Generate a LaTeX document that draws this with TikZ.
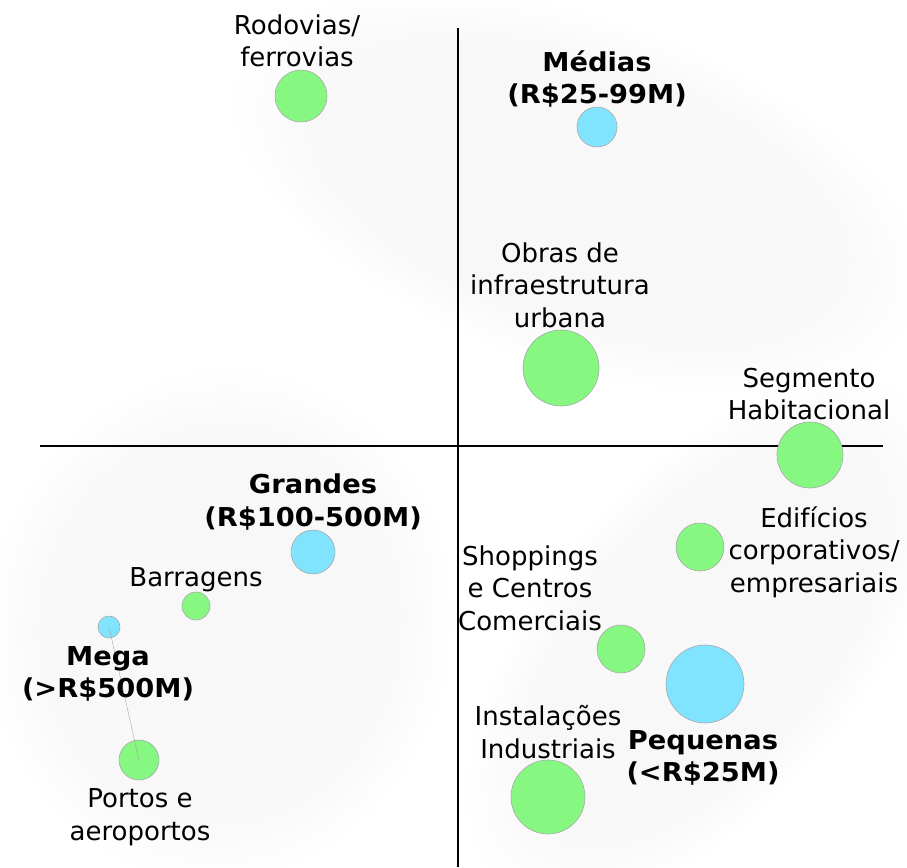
\documentclass[tikz,border=0pt]{standalone}
\usepackage{fontspec}
\setmainfont{DejaVu Sans}
\newfontfamily\widebold{DejaVu Sans Bold}[FakeStretch=1.05]
\definecolor{bgreen}{HTML}{86F882}
\definecolor{bblue}{HTML}{80E4FF}
\definecolor{bordergray}{HTML}{A8A8A8}
\newcommand\softblob[5]{%
  \foreach \k in {1.0,0.96,0.92,0.88,0.84,0.80,0.76}{%
    \fill[black, fill opacity=0.0058, rotate around={#5:(#1,#2)}]
      (#1,#2) ellipse [x radius=\k*#3, y radius=\k*#4];}}
\begin{document}
\begin{tikzpicture}[x=1pt,y=-1pt,
  lbl/.style={align=center, inner sep=0pt, font=\fontsize{26}{32.5}\selectfont},
  blbl/.style={align=center, inner sep=0pt, font=\fontsize{26}{32.5}\selectfont\widebold},
  bub/.style={circle, draw=bordergray, line width=0.6pt, inner sep=0pt, minimum size=#1},
  gbub/.style={bub=#1, fill=bgreen},
  bbub/.style={bub=#1, fill=bblue},
  axisline/.style={line width=1.6pt, black},
  link/.style={line width=0.4pt, black!35}]
\useasboundingbox (0,0) rectangle (907,867);
% background blobs
\softblob{578}{192}{358}{172}{-19}
\softblob{220}{625}{230}{255}{-10}
\softblob{705}{640}{315}{160}{50}
% axes
\coordinate (vtop) at (458,28);
\coordinate (vbot) at (458,867);
\coordinate (hleft) at (40,446);
\coordinate (hright) at (883,446);
\draw[axisline] (vtop) -- (vbot);
\draw[axisline] (hleft) -- (hright);
% bubbles
\node[gbub=52] (rod) at (301,96) {};
\node[bbub=40] (med) at (597,127) {};
\node[gbub=76] (obr) at (561,368) {};
\node[gbub=66] (seg) at (810,455) {};
\node[bbub=44] (gra) at (313,552) {};
\node[gbub=28] (bar) at (196,606) {};
\node[bbub=22] (meg) at (109,627) {};
\node[gbub=40] (por) at (139,760) {};
\node[gbub=48] (edi) at (700,547) {};
\node[gbub=48] (sho) at (621,649) {};
\node[bbub=78] (peq) at (705,684) {};
\node[gbub=74] (ins) at (548,797) {};
\draw[link] (meg.center) -- (por.center);
% labels
\node[lbl] (trod) at (297,41) {Rodovias/\\ferrovias};
\node[blbl] (tmed) at (597,79) {Médias\\(R\$25-99M)};
\node[lbl] (tobr) at (560,285) {Obras de\\infraestrutura\\urbana};
\node[lbl] (tseg) at (809,394) {Segmento\\Habitacional};
\node[blbl] (tgra) at (313,502) {Grandes\\(R\$100-500M)};
\node[lbl] (tbar) at (196,580) {Barragens};
\node[blbl] (tmeg) at (108,674) {Mega\\(>R\$500M)};
\node[lbl] (tpor) at (140,817) {Portos e\\aeroportos};
\node[lbl] (tedi) at (814,552) {Edifícios\\corporativos/\\empresariais};
\node[lbl] (tsho) at (530,588) {Shoppings\\e Centros\\Comerciais};
\node[lbl] (tins) at (548,732) {Instalações\\Industriais};
\node[blbl] (tpeq) at (703,758) {Pequenas\\(<R\$25M)};
\end{tikzpicture}
\end{document}
